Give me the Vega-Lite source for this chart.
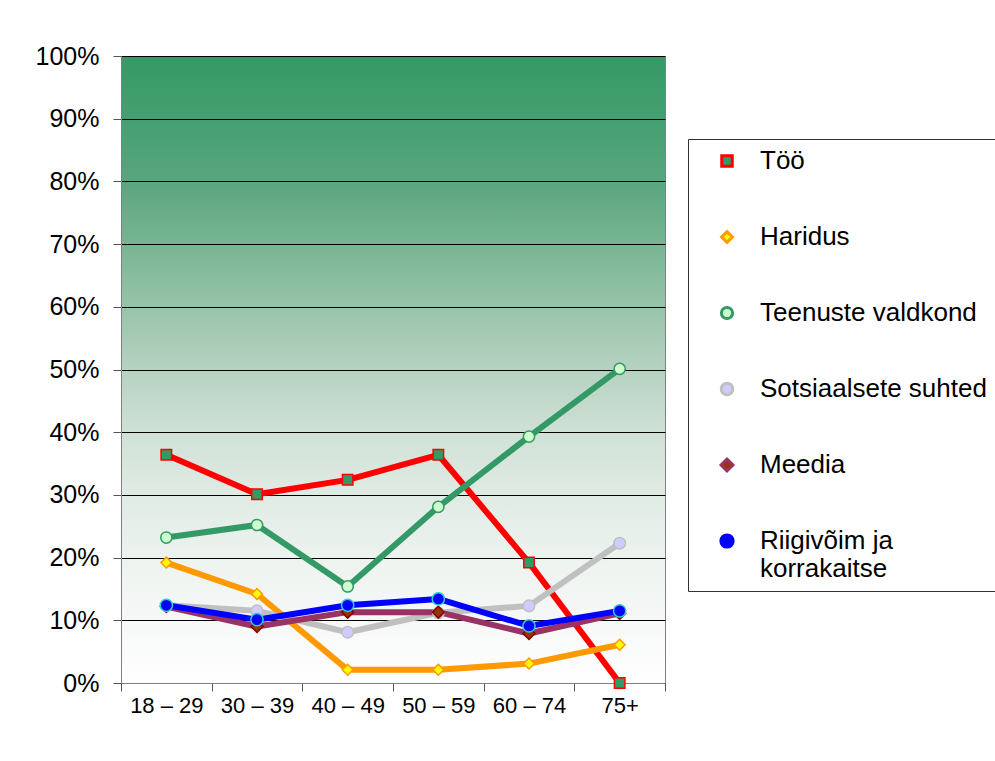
{
  "$schema": "https://vega.github.io/schema/vega-lite/v6.json",
  "width": 544,
  "height": 627,
  "autosize": {"type": "none"},
  "padding": {"left": 121, "top": 56, "right": 330, "bottom": 78},
  "background": "white",
  "config": {
    "font": "Liberation Sans",
    "view": {
      "stroke": "#808080",
      "strokeWidth": 1,
      "fill": {
        "gradient": "linear", "x1": 0, "y1": 0, "x2": 0, "y2": 1,
        "stops": [
          {"offset": 0, "color": "#369966"},
          {"offset": 0.1, "color": "#44a070"},
          {"offset": 0.2, "color": "#5aa67e"},
          {"offset": 0.3, "color": "#78b593"},
          {"offset": 0.4, "color": "#98c4aa"},
          {"offset": 0.5, "color": "#b6d2c1"},
          {"offset": 0.6, "color": "#cfe1d6"},
          {"offset": 0.7, "color": "#e0ebe4"},
          {"offset": 0.8, "color": "#edf3ef"},
          {"offset": 0.9, "color": "#f6f8f7"},
          {"offset": 1, "color": "#ffffff"}
        ]
      }
    }
  },
  "data": {
    "values": [
      {"age": "18 – 29", "series": "Töö", "value": 0.364},
      {"age": "30 – 39", "series": "Töö", "value": 0.301},
      {"age": "40 – 49", "series": "Töö", "value": 0.324},
      {"age": "50 – 59", "series": "Töö", "value": 0.364},
      {"age": "60 – 74", "series": "Töö", "value": 0.192},
      {"age": "75+", "series": "Töö", "value": 0.0},
      {"age": "18 – 29", "series": "Haridus", "value": 0.192},
      {"age": "30 – 39", "series": "Haridus", "value": 0.142},
      {"age": "40 – 49", "series": "Haridus", "value": 0.021},
      {"age": "50 – 59", "series": "Haridus", "value": 0.021},
      {"age": "60 – 74", "series": "Haridus", "value": 0.031},
      {"age": "75+", "series": "Haridus", "value": 0.061},
      {"age": "18 – 29", "series": "Teenuste valdkond", "value": 0.232},
      {"age": "30 – 39", "series": "Teenuste valdkond", "value": 0.252},
      {"age": "40 – 49", "series": "Teenuste valdkond", "value": 0.154},
      {"age": "50 – 59", "series": "Teenuste valdkond", "value": 0.281},
      {"age": "60 – 74", "series": "Teenuste valdkond", "value": 0.393},
      {"age": "75+", "series": "Teenuste valdkond", "value": 0.501},
      {"age": "18 – 29", "series": "Sotsiaalsete suhted", "value": 0.124},
      {"age": "30 – 39", "series": "Sotsiaalsete suhted", "value": 0.115},
      {"age": "40 – 49", "series": "Sotsiaalsete suhted", "value": 0.081},
      {"age": "50 – 59", "series": "Sotsiaalsete suhted", "value": 0.112},
      {"age": "60 – 74", "series": "Sotsiaalsete suhted", "value": 0.123},
      {"age": "75+", "series": "Sotsiaalsete suhted", "value": 0.223},
      {"age": "18 – 29", "series": "Meedia", "value": 0.122},
      {"age": "30 – 39", "series": "Meedia", "value": 0.09},
      {"age": "40 – 49", "series": "Meedia", "value": 0.113},
      {"age": "50 – 59", "series": "Meedia", "value": 0.113},
      {"age": "60 – 74", "series": "Meedia", "value": 0.079},
      {"age": "75+", "series": "Meedia", "value": 0.111},
      {"age": "18 – 29", "series": "Riigivõim ja korrakaitse", "value": 0.124},
      {"age": "30 – 39", "series": "Riigivõim ja korrakaitse", "value": 0.101},
      {"age": "40 – 49", "series": "Riigivõim ja korrakaitse", "value": 0.124},
      {"age": "50 – 59", "series": "Riigivõim ja korrakaitse", "value": 0.134},
      {"age": "60 – 74", "series": "Riigivõim ja korrakaitse", "value": 0.091},
      {"age": "75+", "series": "Riigivõim ja korrakaitse", "value": 0.115}
    ]
  },
  "layer": [
    {
      "mark": {"type": "line", "strokeWidth": 6, "strokeCap": "butt", "strokeJoin": "round"},
      "encoding": {
        "x": {
          "field": "age", "type": "nominal",
          "sort": ["18 – 29", "30 – 39", "40 – 49", "50 – 59", "60 – 74", "75+"],
          "bandPosition": 0.5,
          "scale": {"type": "band", "paddingInner": 0, "paddingOuter": 0},
          "axis": {
            "title": null, "labelAngle": 0, "labelFontSize": 22, "labelColor": "#000",
            "tickBand": "extent", "tickSize": 8, "tickColor": "#555", "domainColor": "#808080",
            "labelPadding": 4, "grid": false
          }
        },
        "y": {
          "field": "value", "type": "quantitative",
          "scale": {"domain": [0, 1]},
          "axis": {
            "title": null, "values": [0, 0.1, 0.2, 0.3, 0.4, 0.5, 0.6, 0.7, 0.8, 0.9, 1],
            "format": ".0%", "grid": true, "gridColor": "#000", "gridWidth": 1, "gridOpacity": 1,
            "labelFontSize": 25, "labelColor": "#000", "labelPadding": 14, "tickSize": 8,
            "tickColor": "#555", "domainColor": "#808080"
          }
        },
        "color": {
          "field": "series", "type": "nominal",
          "scale": {
            "domain": ["Töö", "Haridus", "Teenuste valdkond", "Sotsiaalsete suhted", "Meedia", "Riigivõim ja korrakaitse"],
            "range": ["#ff0000", "#ff9900", "#339966", "#c0c0c0", "#993366", "#0000ff"]
          },
          "legend": {
            "orient": "none", "legendX": 567, "legendY": 83, "title": null,
            "labelFontSize": 26, "labelFont": "Liberation Sans", "labelColor": "#000",
            "labelLimit": 500, "labelOffset": 20, "padding": 9, "symbolOffset": 17,
            "strokeColor": "#333", "fillColor": "white", "rowPadding": 50,
            "symbolSize": 130, "symbolStrokeWidth": 3,
            "labelExpr": "datum.label == 'Riigivõim ja korrakaitse' ? ['Riigivõim ja', 'korrakaitse'] : datum.label"
          }
        }
      }
    },
    {
      "mark": {"type": "point", "filled": true, "strokeWidth": 1.5, "opacity": 1},
      "encoding": {
        "x": {
          "field": "age", "type": "nominal",
          "sort": ["18 – 29", "30 – 39", "40 – 49", "50 – 59", "60 – 74", "75+"],
          "bandPosition": 0.5
        },
        "y": {"field": "value", "type": "quantitative"},
        "fill": {
          "field": "series", "type": "nominal", "legend": null,
          "scale": {
            "domain": ["Töö", "Haridus", "Teenuste valdkond", "Sotsiaalsete suhted", "Meedia", "Riigivõim ja korrakaitse"],
            "range": ["#339966", "#ffff00", "#ccffcc", "#ccccff", "#993300", "#0000ff"]
          }
        },
        "stroke": {
          "field": "series", "type": "nominal", "legend": null,
          "scale": {
            "domain": ["Töö", "Haridus", "Teenuste valdkond", "Sotsiaalsete suhted", "Meedia", "Riigivõim ja korrakaitse"],
            "range": ["#ff0000", "#ff9900", "#339966", "#c0c0c0", "#800000", "#33cccc"]
          }
        },
        "shape": {
          "field": "series", "type": "nominal", "legend": null,
          "scale": {
            "domain": ["Töö", "Haridus", "Teenuste valdkond", "Sotsiaalsete suhted", "Meedia", "Riigivõim ja korrakaitse"],
            "range": ["square", "diamond", "circle", "circle", "diamond", "circle"]
          }
        },
        "size": {
          "field": "series", "type": "ordinal", "legend": null,
          "scale": {
            "domain": ["Töö", "Haridus", "Teenuste valdkond", "Sotsiaalsete suhted", "Meedia", "Riigivõim ja korrakaitse"],
            "range": [110, 150, 100, 100, 150, 100]
          }
        }
      }
    }
  ]
}
